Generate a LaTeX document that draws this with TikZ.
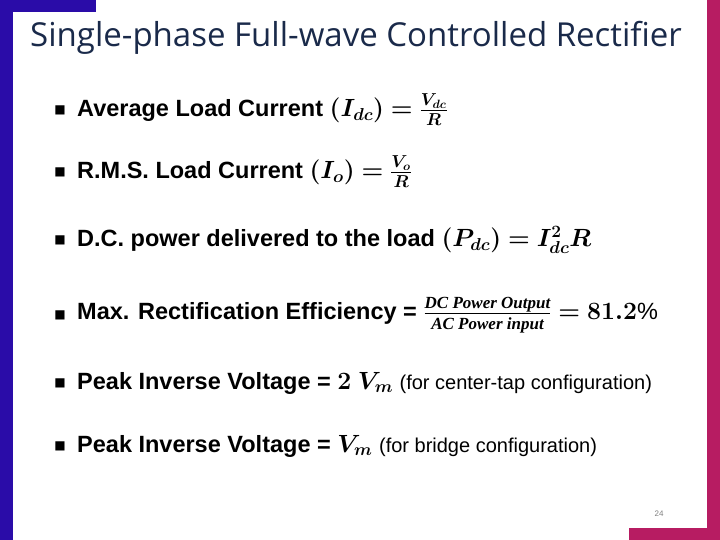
\documentclass[tikz,border=0pt]{standalone}
\usepackage{amsmath}
\usepackage{bm}
\usepackage{fontspec}
\setmainfont{Liberation Sans}
\newfontfamily\titlefont{Open Sans}
\newfontfamily\dejavu{DejaVu Sans}
\newfontfamily\serifbi{Liberation Serif}
\definecolor{lbar}{HTML}{2A0CA8}
\definecolor{rbar}{HTML}{B71C62}
\definecolor{titlec}{HTML}{1A2A4A}
\begin{document}
\begin{tikzpicture}[x=1pt,y=-1pt,
  item/.style={anchor=west,font=\fontsize{23.5}{27}\selectfont\bfseries,inner sep=0pt},
  bul/.style={anchor=center,font=\fontsize{12}{14}\selectfont,inner sep=0pt}]
\useasboundingbox (0,0) rectangle (720,540);
\fill[white] (0,0) rectangle (720,540);
\fill[lbar] (0,0) rectangle (13,540);
\fill[lbar] (0,0) rectangle (96,12);
\fill[rbar] (707,0) rectangle (720,540);
\fill[rbar] (629,528) rectangle (720,540);
\node[anchor=west,inner sep=0pt,text=titlec,font=\titlefont\fontsize{33}{38}\selectfont] (title) at (30,38) {Single-phase Full-wave Controlled Rectifier};
\foreach \y/\n in {110/b1,172/b2,240/b3,315/b4,383/b5,446/b6}
  \node[bul] (\n) at (60,\y) {\dejavu ■};
\node[item] (t1) at (77,110) {Average Load Current $\bm{(I_{dc})=\frac{V_{dc}}{R}}$};
\node[item] (t2) at (77,172) {R.M.S. Load Current $\bm{(I_o)=\frac{V_o}{R}}$};
\node[item] (t3) at (77,240) {D.C. power delivered to the load $\bm{(P_{dc})=I_{dc}^2R}$};
\node[item] (t4) at (77,315) {Max. Rectification Efficiency = $\bm{\frac{\text{\serifbi\fontsize{17}{18}\selectfont\bfseries\itshape DC Power Output}}{\text{\serifbi\fontsize{17}{18}\selectfont\bfseries\itshape AC Power input}}=81.2}$\mdseries\%};
\node[item] (t5) at (77,383) {Peak Inverse Voltage = $\bm{2\ V_m}$ {\mdseries\fontsize{20}{24}\selectfont(for center-tap configuration)}};
\node[item] (t6) at (77,446) {Peak Inverse Voltage = $\bm{V_m}$ {\mdseries\fontsize{20}{24}\selectfont(for bridge configuration)}};
\node[inner sep=0pt,text=gray,font=\fontsize{8}{9}\selectfont] (pg) at (659,514) {24};
\end{tikzpicture}
\end{document}
